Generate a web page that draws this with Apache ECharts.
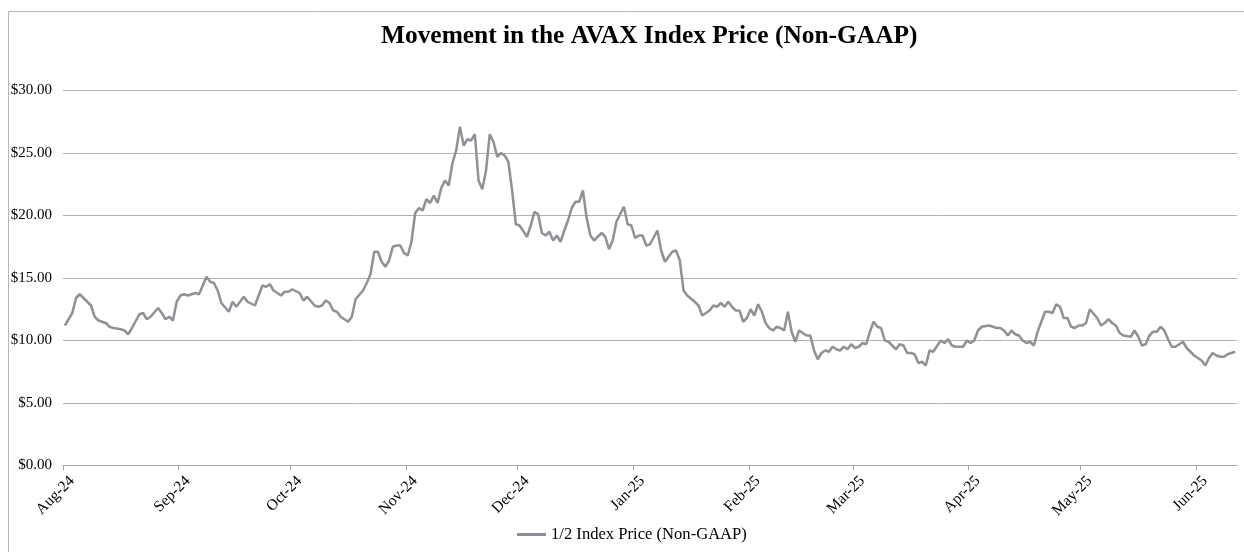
<!DOCTYPE html>
<html>
<head>
<meta charset="utf-8">
<script src="https://cdn.jsdelivr.net/npm/echarts@6/dist/echarts.min.js"></script>
<style>
  html, body { margin: 0; padding: 0; background: #fff; }
  #chart { width: 1244px; height: 552px; }
</style>
</head>
<body>
<div id="chart"></div>
<script>
// daily index price, days counted from Aug 1 2024
const startDate = [2024, 7, 1];
const endDate = [2025, 5, 12];
const dayOffsets = [
  0, 2, 3, 4, 5, 7, 8, 9, 11, 12, 13, 15, 16, 17, 18, 20, 21, 22, 23, 25, 26, 27, 28, 29, 30,
  31, 32, 33, 35, 36, 38, 39, 40, 41, 42, 44, 45, 46, 48, 49, 51, 53, 54, 55, 56, 58, 59, 60,
  61, 63, 64, 65, 67, 68, 69, 70, 71, 72, 73, 74, 76, 77, 78, 80, 81, 82, 83, 84, 85, 86, 87,
  88, 89, 90, 91, 92, 93, 94, 95, 96, 97, 98, 99, 100, 101, 102, 103, 104, 105, 106, 107, 108,
  109, 110, 111, 112, 113, 114, 115, 116, 117, 118, 119, 120, 121, 122, 124, 125, 126, 127,
  128, 129, 130, 131, 132, 133, 134, 135, 136, 137, 138, 139, 140, 141, 142, 144, 145, 146,
  147, 148, 150, 151, 152, 153, 154, 155, 156, 157, 159, 160, 161, 162, 163, 164, 165, 166,
  167, 169, 170, 171, 172, 173, 174, 175, 176, 177, 178, 179, 180, 181, 182, 183, 184, 185,
  186, 187, 188, 189, 190, 191, 192, 193, 194, 195, 196, 197, 198, 199, 200, 201, 202, 203,
  204, 205, 206, 207, 208, 209, 210, 211, 212, 213, 214, 215, 216, 217, 218, 219, 220, 221,
  222, 223, 224, 225, 226, 227, 228, 229, 230, 231, 232, 233, 235, 236, 237, 238, 239, 241,
  242, 243, 244, 245, 246, 248, 250, 251, 252, 253, 254, 255, 256, 257, 258, 259, 260, 261,
  262, 263, 264, 265, 266, 267, 268, 269, 270, 271, 272, 273, 274, 275, 277, 278, 279, 280,
  281, 282, 283, 284, 286, 287, 288, 289, 290, 291, 292, 293, 294, 295, 296, 297, 298, 300,
  301, 302, 303, 305, 306, 307, 308, 309, 310, 311, 312, 313, 314
];
const prices = [
  11.2, 12.2, 13.4, 13.7, 13.4, 12.8, 11.9, 11.6, 11.4, 11.1, 11.0, 10.9, 10.8, 10.5, 11.0, 12.1, 12.2, 11.7, 11.9, 12.6, 12.2, 11.7, 11.9, 11.6, 13.1,
  13.6, 13.7, 13.6, 13.8, 13.7, 15.1, 14.7, 14.6, 14.0, 13.0, 12.3, 13.1, 12.7, 13.5, 13.1, 12.8, 14.4, 14.3, 14.5, 14.0, 13.6, 13.9, 13.9,
  14.1, 13.8, 13.2, 13.5, 12.8, 12.7, 12.8, 13.2, 13.0, 12.4, 12.3, 11.9, 11.5, 11.9, 13.3, 14.0, 14.6, 15.3, 17.1, 17.1, 16.3, 15.9, 16.4,
  17.5, 17.6, 17.6, 17.0, 16.8, 17.9, 20.2, 20.6, 20.4, 21.3, 21.0, 21.6, 21.0, 22.2, 22.8, 22.4, 24.2, 25.2, 27.1, 25.6, 26.1,
  26.0, 26.5, 22.8, 22.1, 23.6, 26.5, 25.9, 24.7, 25.0, 24.8, 24.3, 22.0, 19.3, 19.2, 18.3, 19.2, 20.3, 20.1,
  18.6, 18.4, 18.7, 18.0, 18.4, 17.9, 18.8, 19.6, 20.6, 21.1, 21.1, 22.0, 19.8, 18.4, 18.0, 18.6, 18.3, 17.3,
  18.0, 19.5, 20.7, 19.3, 19.2, 18.2, 18.4, 18.4, 17.6, 17.7, 18.8, 17.2, 16.3, 16.7, 17.1, 17.2, 16.4, 14.0,
  13.6, 13.1, 12.8, 12.0, 12.2, 12.4, 12.8, 12.7, 13.0, 12.7, 13.1, 12.7, 12.4, 12.4, 11.5, 11.8, 12.5, 12.0,
  12.9, 12.3, 11.4, 11.0, 10.8, 11.1, 11.0, 10.8, 12.3, 10.7, 9.9, 10.8, 10.6, 10.4, 10.4, 9.2, 8.5, 9.0,
  9.2, 9.1, 9.5, 9.3, 9.2, 9.5, 9.3, 9.7, 9.4, 9.5, 9.8, 9.7, 10.7, 11.5, 11.1, 11.0, 10.0, 9.9,
  9.6, 9.3, 9.7, 9.6, 9.0, 9.0, 8.9, 8.2, 8.3, 8.0, 9.2, 9.1, 10.0, 9.8, 10.1, 9.6, 9.5, 9.5,
  10.0, 9.8, 10.0, 10.8, 11.1, 11.2, 11.0, 11.0, 10.8, 10.4, 10.8, 10.5, 10.4, 10.0, 9.8, 9.9, 9.6, 10.7,
  11.5, 12.3, 12.3, 12.2, 12.9, 12.7, 11.8, 11.8, 11.1, 11.0, 11.2, 11.2, 11.4, 12.5, 11.8, 11.2, 11.4, 11.7,
  11.4, 11.2, 10.6, 10.4, 10.3, 10.8, 10.3, 9.6, 9.7, 10.4, 10.7, 10.7, 11.1, 10.8, 10.1, 9.5, 9.5, 9.9,
  9.4, 9.1, 8.8, 8.4, 8.0, 8.6, 9.0, 8.8, 8.7, 8.7, 8.9, 9.0, 9.1
];
const yTicks = [0, 5, 10, 15, 20, 25, 30];
const monthNames = ["Jan", "Feb", "Mar", "Apr", "May", "Jun", "Jul", "Aug", "Sep", "Oct", "Nov", "Dec"];

const DAY = 86400000;
const FONT = "'Liberation Serif', 'Times New Roman', serif";
const LINE_COLOR = "#8e9195";

// Excel draws each day in the middle of its slot
const seriesData = dayOffsets.map((d, i) => [
  new Date(startDate[0], startDate[1], startDate[2] + d, 12).getTime(),
  prices[i]
]);

const chart = echarts.init(document.getElementById("chart"));
chart.setOption({
  animation: false,
  backgroundColor: "#fff",
  title: {
    text: "Movement in the AVAX Index Price (Non-GAAP)",
    left: 376,
    top: 19,
    textStyle: { fontFamily: FONT, fontSize: 25.4, fontWeight: "bold", color: "#000" }
  },
  graphic: [
    {
      type: "rect",
      shape: { x: 8.5, y: 11.5, width: 1260, height: 560 },
      style: { fill: "none", stroke: "#b5b5b5", lineWidth: 1 },
      silent: true
    }
  ],
  legend: {
    left: 517,
    top: 526,
    padding: 0,
    icon: "rect",
    itemWidth: 29,
    itemHeight: 3,
    itemGap: 5,
    textStyle: { fontFamily: FONT, fontSize: 16.6, color: "#000" }
  },
  grid: { left: 63, right: 7, top: 90.5, bottom: 86.5, outerBoundsMode: "none" },
  xAxis: {
    type: "time",
    min: new Date(startDate[0], startDate[1], startDate[2]).getTime(),
    max: new Date(endDate[0], endDate[1], endDate[2]).getTime(),
    minInterval: 28 * DAY,
    maxInterval: 31 * DAY,
    axisLine: { lineStyle: { color: "#a6a6a6", width: 1 } },
    axisTick: { show: true, length: 5, lineStyle: { color: "#a6a6a6" } },
    minorTick: { show: false },
    splitLine: { show: false },
    axisLabel: {
      rotate: 45,
      margin: 11,
      verticalAlign: "top",
      padding: [0, -5, 0, 0],
      fontFamily: FONT,
      fontSize: 15.5,
      color: "#000",
      showMaxLabel: false,
      formatter: function (val) {
        const d = new Date(val);
        return monthNames[d.getMonth()] + "-" + String(d.getFullYear()).slice(2);
      }
    }
  },
  yAxis: {
    type: "value",
    min: yTicks[0],
    max: yTicks[yTicks.length - 1],
    interval: yTicks[1] - yTicks[0],
    axisLine: { show: false },
    axisTick: { show: false },
    splitLine: { lineStyle: { color: "#b3b3b3", width: 1 } },
    axisLabel: {
      margin: 11,
      fontFamily: FONT,
      fontSize: 15,
      color: "#000",
      formatter: v => "$" + v.toFixed(2)
    }
  },
  series: [
    {
      name: "1/2 Index Price (Non-GAAP)",
      type: "line",
      data: seriesData,
      symbol: "none",
      lineStyle: { color: LINE_COLOR, width: 2.5 },
      itemStyle: { color: LINE_COLOR }
    }
  ]
});
</script>
</body>
</html>
